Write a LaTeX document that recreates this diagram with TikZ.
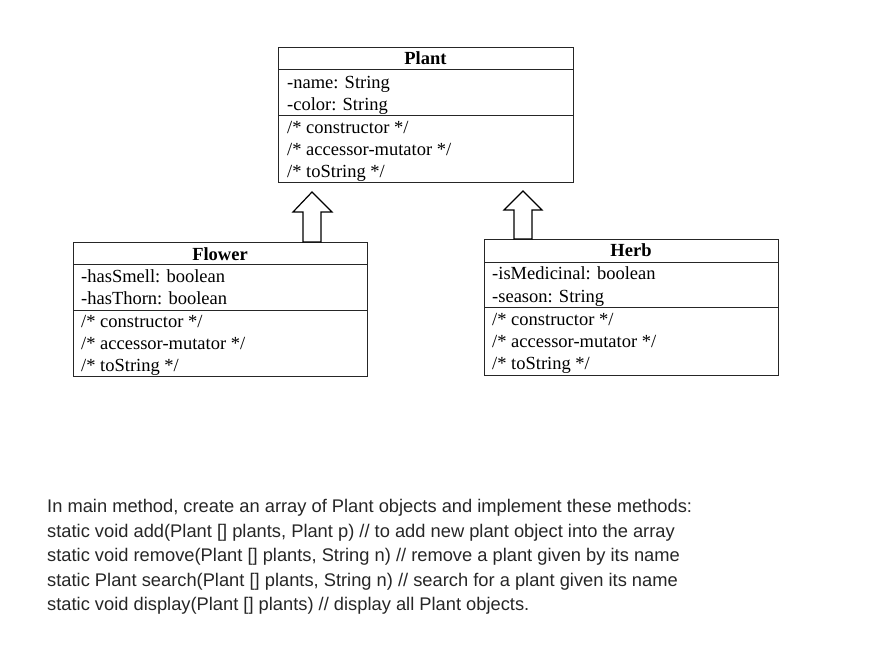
\documentclass[tikz,border=0pt]{standalone}
\usepackage{fontspec}
\setmainfont{Liberation Serif}
\newfontfamily\notefont{Liberation Sans}
\begin{document}
\begin{tikzpicture}[x=1pt,y=-1pt,
  classbox/.style={draw=black!85, line width=0.9pt, inner sep=0pt, anchor=north west},
  sep/.style={draw=black!85, line width=0.9pt},
  txt/.style={anchor=base west, inner sep=0pt, font=\fontsize{18.5}{20}\selectfont},
  title/.style={anchor=base, inner sep=0pt, font=\fontsize{18.5}{20}\selectfont\bfseries},
  note/.style={anchor=base west, inner sep=0pt, text=black!85, font=\notefont\fontsize{18.3}{20}\selectfont},
  inherit/.style={draw=black, line width=1.2pt, fill=white, line join=miter}]
\useasboundingbox (0,0) rectangle (878,649);

% Plant
\node[classbox, minimum width=295pt, minimum height=135pt] (plant) at (278,47) {};
\draw[sep] ([yshift=-22pt]plant.north west) -- ([yshift=-22pt]plant.north east);
\draw[sep] ([yshift=-68pt]plant.north west) -- ([yshift=-68pt]plant.north east);
\node[title] (plantT) at (425.5,64) {Plant};
\node[txt] (p1) at (287,88) {-name: String};
\node[txt] (p2) at (287,110) {-color: String};
\node[txt] (p3) at (287,133) {/* constructor */};
\node[txt] (p4) at (287,155) {/* accessor-mutator */};
\node[txt] (p5) at (287,177) {/* toString */};

% Flower
\node[classbox, minimum width=294pt, minimum height=134pt] (flower) at (73,242) {};
\draw[sep] ([yshift=-22pt]flower.north west) -- ([yshift=-22pt]flower.north east);
\draw[sep] ([yshift=-68pt]flower.north west) -- ([yshift=-68pt]flower.north east);
\node[title] (flowerT) at (220,260) {Flower};
\node[txt] (f1) at (81,282) {-hasSmell: boolean};
\node[txt] (f2) at (81,304) {-hasThorn: boolean};
\node[txt] (f3) at (81,327) {/* constructor */};
\node[txt] (f4) at (81,349) {/* accessor-mutator */};
\node[txt] (f5) at (81,371) {/* toString */};

% Herb
\node[classbox, minimum width=294pt, minimum height=136pt] (herb) at (484,239) {};
\draw[sep] ([yshift=-23pt]herb.north west) -- ([yshift=-23pt]herb.north east);
\draw[sep] ([yshift=-68pt]herb.north west) -- ([yshift=-68pt]herb.north east);
\node[title] (herbT) at (631,256) {Herb};
\node[txt] (h1) at (492,279) {-isMedicinal: boolean};
\node[txt] (h2) at (492,302) {-season: String};
\node[txt] (h3) at (492,325) {/* constructor */};
\node[txt] (h4) at (492,347) {/* accessor-mutator */};
\node[txt] (h5) at (492,369) {/* toString */};

% inheritance block arrows
\draw[inherit] (312,192) -- (332,212) -- (321,212) -- (321,242) -- (303,242) -- (303,212) -- (293,212) -- cycle;
\draw[inherit] (523,191) -- (542,210) -- (532,210) -- (532,239) -- (514,239) -- (514,210) -- (504,210) -- cycle;

% note text
\node[note] (n1) at (47,512) {In main method, create an array of Plant objects and implement these methods:};
\node[note] (n2) at (47,537) {static void add(Plant [] plants, Plant p) // to add new plant object into the array};
\node[note] (n3) at (47,561) {static void remove(Plant [] plants, String n) // remove a plant given by its name};
\node[note] (n4) at (47,586) {static Plant search(Plant [] plants, String n) // search for a plant given its name};
\node[note] (n5) at (47,610) {static void display(Plant [] plants) // display all Plant objects.};
\end{tikzpicture}
\end{document}
